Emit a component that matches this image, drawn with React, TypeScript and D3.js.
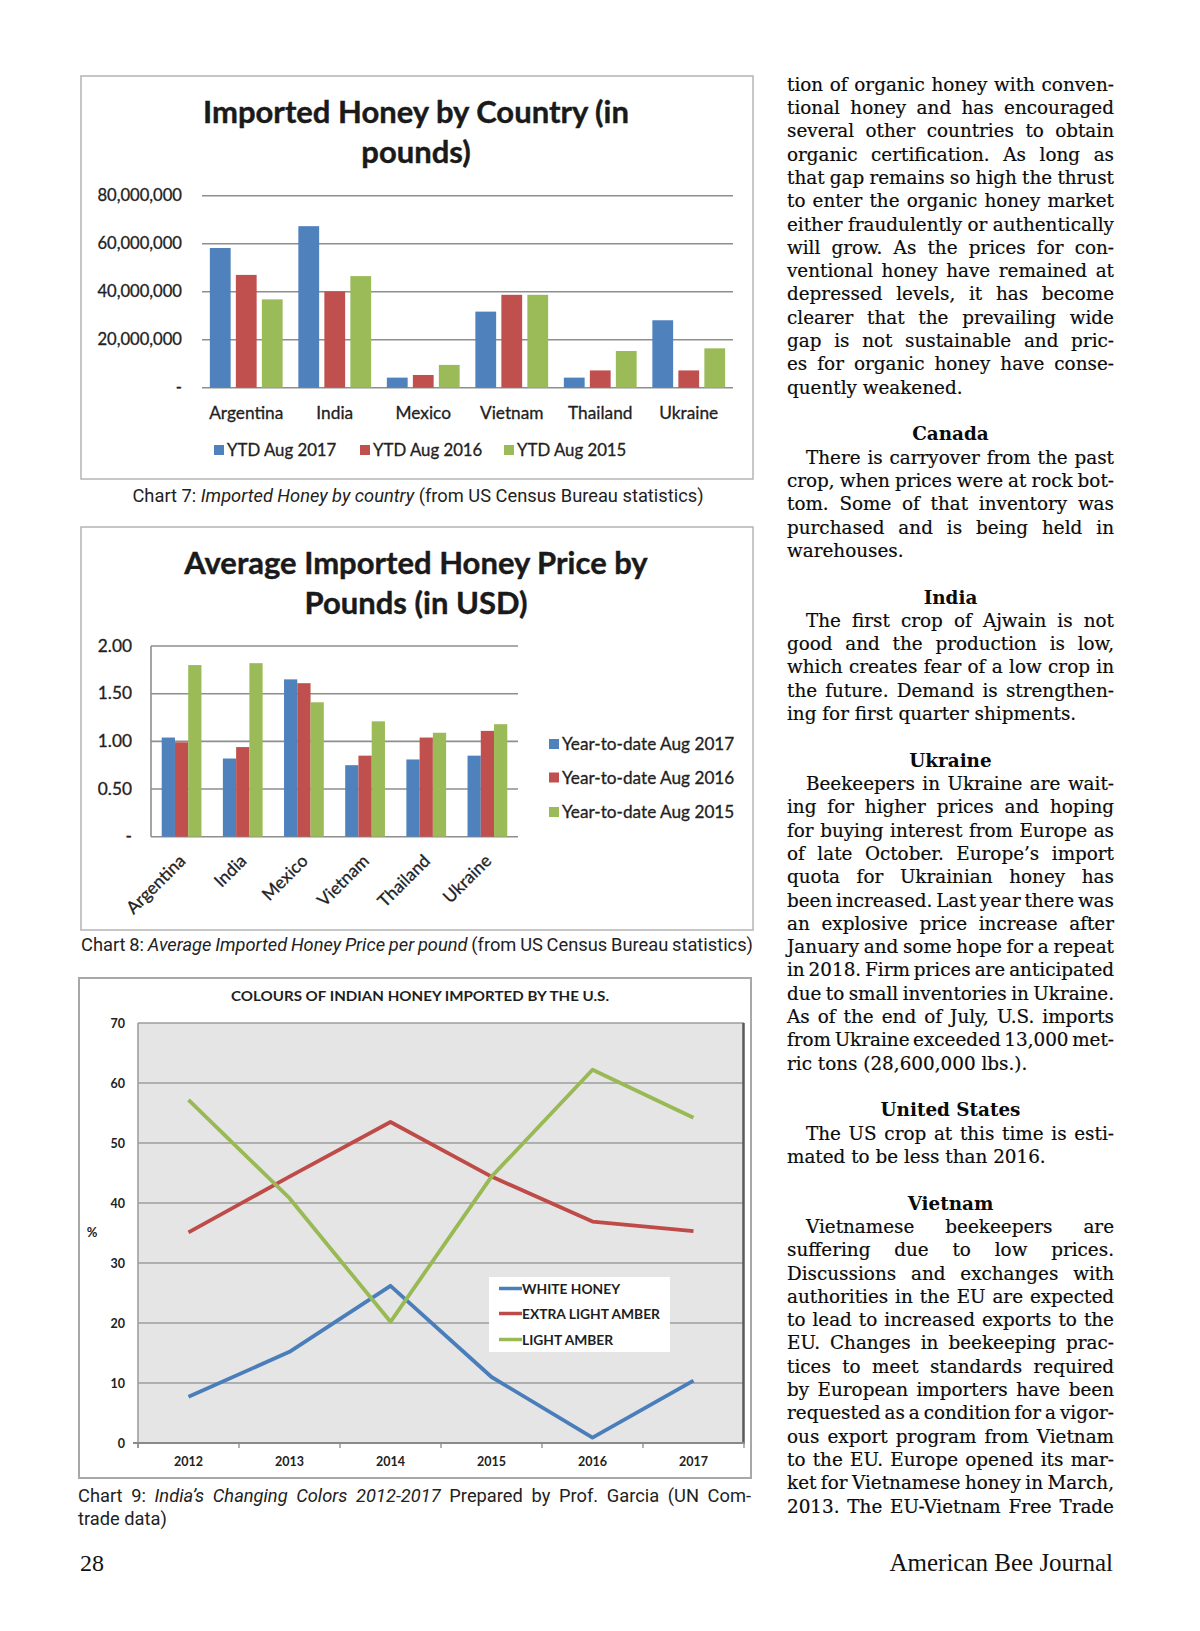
import React, { useEffect, useRef } from 'react';
import * as d3 from 'd3';

// ---------- DATA ----------
const countries = ['Argentina', 'India', 'Mexico', 'Vietnam', 'Thailand', 'Ukraine'];

// Chart 7: imported honey by country (pounds)
const volumeSeries = ['YTD Aug 2017', 'YTD Aug 2016', 'YTD Aug 2015'];
const volume2017 = [58.2e6, 67.3e6, 4.2e6, 31.7e6, 4.2e6, 28.1e6];
const volume2016 = [47.0e6, 40.1e6, 5.3e6, 38.7e6, 7.2e6, 7.2e6];
const volume2015 = [36.8e6, 46.5e6, 9.5e6, 38.7e6, 15.3e6, 16.4e6];
const volumeTicks = [0, 20e6, 40e6, 60e6, 80e6];

// Chart 8: average price per pound (USD)
const priceSeries = ['Year-to-date Aug 2017', 'Year-to-date Aug 2016', 'Year-to-date Aug 2015'];
const price2017 = [1.04, 0.82, 1.65, 0.75, 0.81, 0.85];
const price2016 = [0.99, 0.94, 1.61, 0.85, 1.04, 1.11];
const price2015 = [1.80, 1.82, 1.41, 1.21, 1.09, 1.18];
const priceTicks = [0, 0.5, 1, 1.5, 2];

// Chart 9: colours of Indian honey (%)
const years = ['2012', '2013', '2014', '2015', '2016', '2017'];
const colourSeries = ['WHITE HONEY', 'EXTRA LIGHT AMBER', 'LIGHT AMBER'];
const whiteHoney = [7.7, 15.2, 26.2, 11.0, 0.9, 10.4];
const extraLightAmber = [35.1, 44.4, 53.5, 44.4, 36.9, 35.3];
const lightAmber = [57.2, 40.8, 20.2, 44.4, 62.2, 54.2];
const pctTicks = [0, 10, 20, 30, 40, 50, 60, 70];

// Article text (right column)
type Line = { t: string; k: 'j' | 'l' | 'h' | 'b'; ind?: boolean };
const articleLines: Line[] = [
  { t: 'tion of organic honey with conven-', k: 'j' },
  { t: 'tional honey and has encouraged', k: 'j' },
  { t: 'several other countries to obtain', k: 'j' },
  { t: 'organic certification. As long as', k: 'j' },
  { t: 'that gap remains so high the thrust', k: 'j' },
  { t: 'to enter the organic honey market', k: 'j' },
  { t: 'either fraudulently or authentically', k: 'j' },
  { t: 'will grow. As the prices for con-', k: 'j' },
  { t: 'ventional honey have remained at', k: 'j' },
  { t: 'depressed levels, it has become', k: 'j' },
  { t: 'clearer that the prevailing wide', k: 'j' },
  { t: 'gap is not sustainable and pric-', k: 'j' },
  { t: 'es for organic honey have conse-', k: 'j' },
  { t: 'quently weakened.', k: 'l' },
  { t: '', k: 'b' },
  { t: 'Canada', k: 'h' },
  { t: 'There is carryover from the past', k: 'j', ind: true },
  { t: 'crop, when prices were at rock bot-', k: 'j' },
  { t: 'tom. Some of that inventory was', k: 'j' },
  { t: 'purchased and is being held in', k: 'j' },
  { t: 'warehouses.', k: 'l' },
  { t: '', k: 'b' },
  { t: 'India', k: 'h' },
  { t: 'The first crop of Ajwain is not', k: 'j', ind: true },
  { t: 'good and the production is low,', k: 'j' },
  { t: 'which creates fear of a low crop in', k: 'j' },
  { t: 'the future. Demand is strengthen-', k: 'j' },
  { t: 'ing for first quarter shipments.', k: 'l' },
  { t: '', k: 'b' },
  { t: 'Ukraine', k: 'h' },
  { t: 'Beekeepers in Ukraine are wait-', k: 'j', ind: true },
  { t: 'ing for higher prices and hoping', k: 'j' },
  { t: 'for buying interest from Europe as', k: 'j' },
  { t: 'of late October. Europe\u2019s import', k: 'j' },
  { t: 'quota for Ukrainian honey has', k: 'j' },
  { t: 'been increased. Last year there was', k: 'j' },
  { t: 'an explosive price increase after', k: 'j' },
  { t: 'January and some hope for a repeat', k: 'j' },
  { t: 'in 2018. Firm prices are anticipated', k: 'j' },
  { t: 'due to small inventories in Ukraine.', k: 'j' },
  { t: 'As of the end of July, U.S. imports', k: 'j' },
  { t: 'from Ukraine exceeded 13,000 met-', k: 'j' },
  { t: 'ric tons (28,600,000 lbs.).', k: 'l' },
  { t: '', k: 'b' },
  { t: 'United States', k: 'h' },
  { t: 'The US crop at this time is esti-', k: 'j', ind: true },
  { t: 'mated to be less than 2016.', k: 'l' },
  { t: '', k: 'b' },
  { t: 'Vietnam', k: 'h' },
  { t: 'Vietnamese beekeepers are', k: 'j', ind: true },
  { t: 'suffering due to low prices.', k: 'j' },
  { t: 'Discussions and exchanges with', k: 'j' },
  { t: 'authorities in the EU are expected', k: 'j' },
  { t: 'to lead to increased exports to the', k: 'j' },
  { t: 'EU. Changes in beekeeping prac-', k: 'j' },
  { t: 'tices to meet standards required', k: 'j' },
  { t: 'by European importers have been', k: 'j' },
  { t: 'requested as a condition for a vigor-', k: 'j' },
  { t: 'ous export program from Vietnam', k: 'j' },
  { t: 'to the EU. Europe opened its mar-', k: 'j' },
  { t: 'ket for Vietnamese honey in March,', k: 'j' },
  { t: '2013. The EU-Vietnam Free Trade', k: 'j' },
];

// ---------- STYLE ----------
const W = 1200;
const H = 1631;
const BLUE = '#4f81bd';
const RED = '#c0504d';
const GREEN = '#9bbb59';
const LBLUE = '#4a7ebb';
const LRED = '#be4b48';
const LGREEN = '#98b954';
const CHART_FONT = 'Lato, "Open Sans", sans-serif';
const CAP_FONT = 'Roboto, "Noto Sans", sans-serif';
const SERIF = '"DejaVu Serif", "Liberation Serif", serif';
const INK = '#222';

type Sel = d3.Selection<SVGGElement, unknown, null, undefined>;

function justify(t: d3.Selection<SVGTextElement, unknown, null, undefined>, width: number) {
  const node = t.node();
  if (!node) return;
  const natural = node.getComputedTextLength();
  const txt = node.textContent || '';
  const spaces = (txt.match(/ /g) || []).length;
  if (spaces > 0) t.attr('word-spacing', (width - natural) / spaces);
}

function drawChart7(root: Sel) {
  const g = root.append('g');
  g.append('rect').attr('x', 81).attr('y', 76).attr('width', 672).attr('height', 403)
    .attr('fill', '#fff').attr('stroke', '#b4b4b4').attr('stroke-width', 1.5);
  ['Imported Honey by Country (in', 'pounds)'].forEach((s, i) => {
    g.append('text').attr('x', 416).attr('y', 123 + i * 40).attr('text-anchor', 'middle')
      .attr('font-family', CHART_FONT).attr('font-weight', 700).attr('font-size', 31)
      .attr('fill', '#1a1a1a').attr('stroke', '#1a1a1a').attr('stroke-width', 0.4).text(s);
  });
  const x0 = d3.scaleBand<string>().domain(countries).range([202, 733]);
  const x1 = d3.scaleBand<string>().domain(volumeSeries).range([-36.4, 36.4]).paddingInner(0.2);
  const y = d3.scaleLinear().domain([0, 80e6]).range([387.7, 195.7]);
  const fmt = d3.format(',');
  volumeTicks.forEach((v) => {
    g.append('line').attr('x1', 202).attr('x2', 733).attr('y1', y(v)).attr('y2', y(v))
      .attr('stroke', '#8e8e8e').attr('stroke-width', 1.6);
    g.append('text').attr('x', 182).attr('y', y(v) + 5.5).attr('text-anchor', 'end')
      .attr('font-family', CHART_FONT).attr('font-size', 16.6).attr('fill', INK)
      .attr('stroke', INK).attr('stroke-width', 0.3)
      .text(v === 0 ? '-' : fmt(v));
  });
  const series = [volume2017, volume2016, volume2015];
  const colors = [BLUE, RED, GREEN];
  series.forEach((vals, si) => {
    g.append('g').selectAll('rect').data(vals).join('rect')
      .attr('x', (_d, i) => (x0(countries[i]) as number) + x0.bandwidth() / 2 + (x1(volumeSeries[si]) as number))
      .attr('width', x1.bandwidth())
      .attr('y', (d) => y(d)).attr('height', (d) => y(0) - y(d))
      .attr('fill', colors[si]);
  });
  countries.forEach((c) => {
    g.append('text').attr('x', (x0(c) as number) + x0.bandwidth() / 2).attr('y', 418.5)
      .attr('text-anchor', 'middle').attr('font-family', CHART_FONT).attr('font-size', 17.3)
      .attr('fill', INK).attr('stroke', INK).attr('stroke-width', 0.3).text(c);
  });
  const legX = [214, 360, 504];
  volumeSeries.forEach((s, i) => {
    g.append('rect').attr('x', legX[i]).attr('y', 445).attr('width', 10).attr('height', 10).attr('fill', colors[i]);
    g.append('text').attr('x', legX[i] + 13).attr('y', 456).attr('font-family', CHART_FONT)
      .attr('font-size', 16.8).attr('fill', INK).attr('stroke', INK).attr('stroke-width', 0.3).text(s);
  });
  const cap = g.append('text').attr('x', 418).attr('y', 501.5).attr('text-anchor', 'middle')
    .attr('font-family', CAP_FONT).attr('font-size', 18.3).attr('fill', '#222');
  cap.append('tspan').text('Chart 7: ');
  cap.append('tspan').attr('font-style', 'italic').text('Imported Honey by country');
  cap.append('tspan').text(' (from US Census Bureau statistics)');
}

function drawChart8(root: Sel) {
  const g = root.append('g');
  g.append('rect').attr('x', 81).attr('y', 527).attr('width', 672).attr('height', 403)
    .attr('fill', '#fff').attr('stroke', '#b4b4b4').attr('stroke-width', 1.5);
  ['Average Imported Honey Price by', 'Pounds (in USD)'].forEach((s, i) => {
    g.append('text').attr('x', 416).attr('y', 574 + i * 40).attr('text-anchor', 'middle')
      .attr('font-family', CHART_FONT).attr('font-weight', 700).attr('font-size', 31)
      .attr('fill', '#1a1a1a').attr('stroke', '#1a1a1a').attr('stroke-width', 0.4).text(s);
  });
  const x0 = d3.scaleBand<string>().domain(countries).range([151, 518]).paddingInner(0.35).paddingOuter(0.175);
  const x1 = d3.scaleBand<string>().domain(priceSeries).range([0, x0.bandwidth()]);
  const y = d3.scaleLinear().domain([0, 2]).range([836.7, 646]);
  priceTicks.forEach((v) => {
    g.append('line').attr('x1', 151).attr('x2', 518).attr('y1', y(v)).attr('y2', y(v))
      .attr('stroke', '#8e8e8e').attr('stroke-width', 1.6);
    g.append('text').attr('x', 132).attr('y', y(v) + 5.5).attr('text-anchor', 'end')
      .attr('font-family', CHART_FONT).attr('font-size', 17.3).attr('fill', INK)
      .attr('stroke', INK).attr('stroke-width', 0.3)
      .text(v === 0 ? '-' : d3.format('.2f')(v));
  });
  g.append('line').attr('x1', 151).attr('x2', 151).attr('y1', y(2)).attr('y2', y(0))
    .attr('stroke', '#8e8e8e').attr('stroke-width', 1.6);
  const series = [price2017, price2016, price2015];
  const colors = [BLUE, RED, GREEN];
  series.forEach((vals, si) => {
    g.append('g').selectAll('rect').data(vals).join('rect')
      .attr('x', (_d, i) => (x0(countries[i]) as number) + (x1(priceSeries[si]) as number))
      .attr('width', x1.bandwidth())
      .attr('y', (d) => y(d)).attr('height', (d) => y(0) - y(d))
      .attr('fill', colors[si]);
  });
  countries.forEach((c) => {
    const cx = (x0(c) as number) + x0.bandwidth() / 2;
    g.append('text').attr('transform', `translate(${cx + 5},${862}) rotate(-45)`)
      .attr('text-anchor', 'end').attr('font-family', CHART_FONT).attr('font-size', 17.5)
      .attr('fill', INK).attr('stroke', INK).attr('stroke-width', 0.3).text(c);
  });
  const legY = [744, 777.5, 812];
  priceSeries.forEach((s, i) => {
    g.append('rect').attr('x', 549).attr('y', legY[i] - 5).attr('width', 10).attr('height', 10).attr('fill', colors[i]);
    g.append('text').attr('x', 562).attr('y', legY[i] + 6).attr('font-family', CHART_FONT)
      .attr('font-size', 17.2).attr('fill', INK).attr('stroke', INK).attr('stroke-width', 0.3).text(s);
  });
  const cap = g.append('text').attr('x', 81).attr('y', 950.5)
    .attr('font-family', CAP_FONT).attr('font-size', 18.3).attr('fill', '#222');
  cap.append('tspan').text('Chart 8: ');
  cap.append('tspan').attr('font-style', 'italic').text('Average Imported Honey Price per pound');
  cap.append('tspan').text(' (from US Census Bureau statistics)');
  justify(cap as any, 672);
}

function drawChart9(root: Sel) {
  const g = root.append('g');
  g.append('rect').attr('x', 79).attr('y', 978).attr('width', 672).attr('height', 500)
    .attr('fill', '#fff').attr('stroke', '#a8a8a8').attr('stroke-width', 2);
  g.append('text').attr('x', 420).attr('y', 1001).attr('text-anchor', 'middle')
    .attr('font-family', CHART_FONT).attr('font-weight', 700).attr('font-size', 14)
    .attr('fill', '#1e1e1e').attr('textLength', 378).attr('lengthAdjust', 'spacingAndGlyphs')
    .text('COLOURS OF INDIAN HONEY IMPORTED BY THE U.S.');
  const x = d3.scaleBand<string>().domain(years).range([138, 744]);
  const y = d3.scaleLinear().domain([0, 70]).range([1443, 1023]);
  g.append('rect').attr('x', 138).attr('y', y(70)).attr('width', 606).attr('height', y(0) - y(70))
    .attr('fill', '#e5e5e5');
  pctTicks.forEach((v) => {
    if (v > 0) g.append('line').attr('x1', 138).attr('x2', 744).attr('y1', y(v)).attr('y2', y(v))
      .attr('stroke', '#9c9c9c').attr('stroke-width', 1.3);
    g.append('text').attr('x', 125).attr('y', y(v) + 4.5).attr('text-anchor', 'end')
      .attr('font-family', CHART_FONT).attr('font-weight', 700).attr('font-size', 12.5)
      .attr('fill', '#222').text(String(v));
  });
  g.append('line').attr('x1', 138).attr('x2', 138).attr('y1', y(70)).attr('y2', y(0) + 5)
    .attr('stroke', '#9a9a9a').attr('stroke-width', 1.5);
  g.append('line').attr('x1', 743.5).attr('x2', 743.5).attr('y1', y(70)).attr('y2', y(0))
    .attr('stroke', '#5a5a5a').attr('stroke-width', 2.5);
  g.append('line').attr('x1', 133).attr('x2', 745).attr('y1', y(0)).attr('y2', y(0))
    .attr('stroke', '#8a8a8a').attr('stroke-width', 2);
  d3.range(years.length + 1).forEach((i) => {
    const xx = 138 + i * x.step();
    g.append('line').attr('x1', xx).attr('x2', xx).attr('y1', y(0)).attr('y2', y(0) + 5)
      .attr('stroke', '#8a8a8a').attr('stroke-width', 1.3);
  });
  years.forEach((yr) => {
    g.append('text').attr('x', (x(yr) as number) + x.bandwidth() / 2).attr('y', 1466)
      .attr('text-anchor', 'middle').attr('font-family', CHART_FONT).attr('font-weight', 700)
      .attr('font-size', 12.5).attr('fill', '#222').text(yr);
  });
  g.append('text').attr('x', 92).attr('y', 1237).attr('text-anchor', 'middle')
    .attr('font-family', CHART_FONT).attr('font-weight', 700).attr('font-size', 13)
    .attr('fill', '#222').text('%');
  const line = d3.line<number>()
    .x((_d, i) => (x(years[i]) as number) + x.bandwidth() / 2)
    .y((d) => y(d));
  const series = [whiteHoney, extraLightAmber, lightAmber];
  const colors = [LBLUE, LRED, LGREEN];
  series.forEach((vals, si) => {
    g.append('path').attr('d', line(vals) as string).attr('fill', 'none')
      .attr('stroke', colors[si]).attr('stroke-width', 3.8).attr('stroke-linejoin', 'round');
  });
  g.append('rect').attr('x', 489).attr('y', 1277).attr('width', 181).attr('height', 75).attr('fill', '#fff');
  const legY = [1288.5, 1313.5, 1339.5];
  colourSeries.forEach((s, i) => {
    g.append('line').attr('x1', 499).attr('x2', 522).attr('y1', legY[i]).attr('y2', legY[i])
      .attr('stroke', colors[i]).attr('stroke-width', 3.5);
    g.append('text').attr('x', 522).attr('y', legY[i] + 5).attr('font-family', CHART_FONT)
      .attr('font-weight', 700).attr('font-size', 13.8).attr('fill', '#1e1e1e').text(s);
  });
  const cap = g.append('text').attr('x', 78).attr('y', 1501.5)
    .attr('font-family', CAP_FONT).attr('font-size', 18.3).attr('fill', '#222');
  cap.append('tspan').text('Chart 9: ');
  cap.append('tspan').attr('font-style', 'italic').text('India\u2019s Changing Colors 2012-2017');
  cap.append('tspan').text(' Prepared by Prof. Garcia (UN Com-');
  justify(cap as any, 673);
  g.append('text').attr('x', 78).attr('y', 1524.5).attr('font-family', CAP_FONT)
    .attr('font-size', 18.3).attr('fill', '#222').text('trade data)');
}

function drawArticle(root: Sel) {
  const g = root.append('g');
  const left = 787;
  const colW = 327;
  const indent = 19;
  const lh = 23.31;
  const y0 = 84.2 + 6.5;

  // pick a font size so that the densest justified line just fits the column
  const probe = g.append('text').attr('font-family', SERIF).attr('font-size', 20);
  let maxRatio = 0;
  articleLines.forEach((ln) => {
    if (ln.k !== 'j') return;
    probe.text(ln.t);
    const w = (probe.node() as SVGTextElement).getComputedTextLength();
    const avail = colW - (ln.ind ? indent : 0);
    maxRatio = Math.max(maxRatio, w / avail);
  });
  probe.remove();
  const fs = Math.min(19.5, (20 / maxRatio) * 1.035);

  articleLines.forEach((ln, i) => {
    if (ln.k === 'b') return;
    const yy = y0 + i * lh;
    if (ln.k === 'h') {
      g.append('text').attr('x', left + colW / 2).attr('y', yy).attr('text-anchor', 'middle')
        .attr('font-family', SERIF).attr('font-weight', 700).attr('font-size', fs)
        .attr('fill', '#0a0a0a').text(ln.t);
      return;
    }
    const x = left + (ln.ind ? indent : 0);
    const t = g.append('text').attr('x', x).attr('y', yy).attr('font-family', SERIF)
      .attr('font-size', fs).attr('fill', '#0a0a0a').attr('stroke', '#0a0a0a')
      .attr('stroke-width', 0.2).text(ln.t);
    if (ln.k === 'j') justify(t as any, colW - (ln.ind ? indent : 0));
  });
  g.append('text').attr('x', 80).attr('y', 1571).attr('font-family', '"Liberation Serif", serif')
    .attr('font-size', 24).attr('fill', '#111').text('28');
  g.append('text').attr('x', 1113).attr('y', 1571).attr('text-anchor', 'end').attr('font-family', '"Liberation Serif", serif')
    .attr('font-size', 25).attr('fill', '#111').text('American Bee Journal');
}

export default function App() {
  const ref = useRef<SVGSVGElement>(null);
  useEffect(() => {
    if (!ref.current) return;
    const svg = d3.select(ref.current);
    svg.selectAll('*').remove();
    svg.append('rect').attr('width', W).attr('height', H).attr('fill', '#fff');
    const root = svg.append('g') as unknown as Sel;
    drawChart7(root);
    drawChart8(root);
    drawChart9(root);
    drawArticle(root);
  }, []);
  return (
    <svg ref={ref} width={W} height={H} viewBox={`0 0 ${W} ${H}`}
      style={{ position: 'absolute', left: 0, top: 0, display: 'block', background: '#fff' }} />
  );
}
